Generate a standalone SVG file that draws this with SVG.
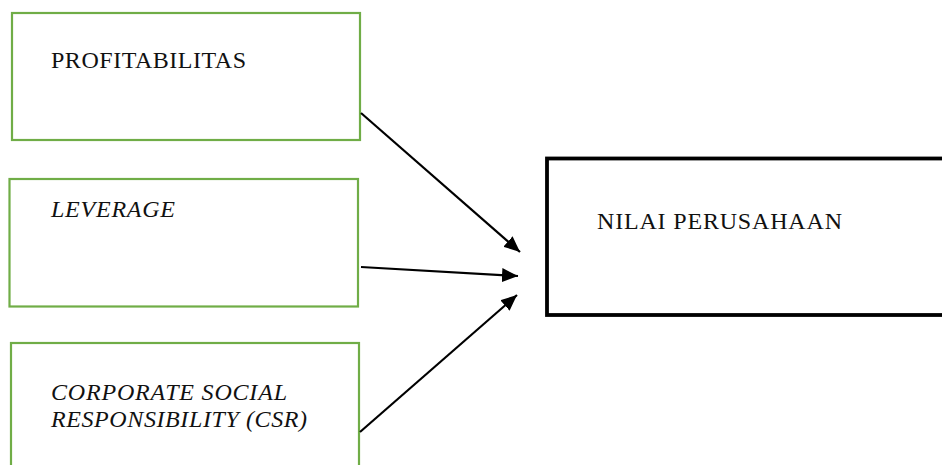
<svg xmlns="http://www.w3.org/2000/svg" width="942" height="465" viewBox="0 0 942 465">
<style>
.g{fill:#fff;stroke:#70AD47;stroke-width:2.2}
.k{fill:#fff;stroke:#000;stroke-width:3.8}
.t{font-family:"Liberation Serif",serif;font-size:24px;fill:#111}
.i{font-style:italic}
.c{stroke:#000;stroke-width:2.2;fill:none}
</style>
<defs>
<marker id="a" viewBox="0 0 16 14" refX="16" refY="7" markerWidth="16" markerHeight="14" markerUnits="userSpaceOnUse" orient="auto">
<path d="M0,0 L16,7 L0,14 z" fill="#000"/>
</marker>
</defs>
<g id="profitabilitas">
<rect class="g" x="12" y="13" width="348" height="127"/>
<text class="t" x="51" y="68" textLength="195" lengthAdjust="spacing">PROFITABILITAS</text>
</g>
<g id="leverage">
<rect class="g" x="9.5" y="179" width="348.5" height="127.5"/>
<text class="t i" x="51" y="217" textLength="124" lengthAdjust="spacing">LEVERAGE</text>
</g>
<g id="csr">
<rect class="g" x="11" y="343" width="348" height="140"/>
<text class="t i" x="51" y="400" textLength="236" lengthAdjust="spacing">CORPORATE SOCIAL</text>
<text class="t i" x="51" y="427" textLength="256" lengthAdjust="spacing">RESPONSIBILITY (CSR)</text>
</g>
<g id="nilai">
<rect class="k" x="547" y="158.5" width="410" height="156.5"/>
<text class="t" x="597" y="229" textLength="245" lengthAdjust="spacing">NILAI PERUSAHAAN</text>
</g>
<g id="connectors">
<line class="c" x1="361" y1="113" x2="520" y2="252" marker-end="url(#a)"/>
<line class="c" x1="361" y1="267" x2="518" y2="276" marker-end="url(#a)"/>
<line class="c" x1="360" y1="432" x2="517" y2="295" marker-end="url(#a)"/>
</g>
</svg>
